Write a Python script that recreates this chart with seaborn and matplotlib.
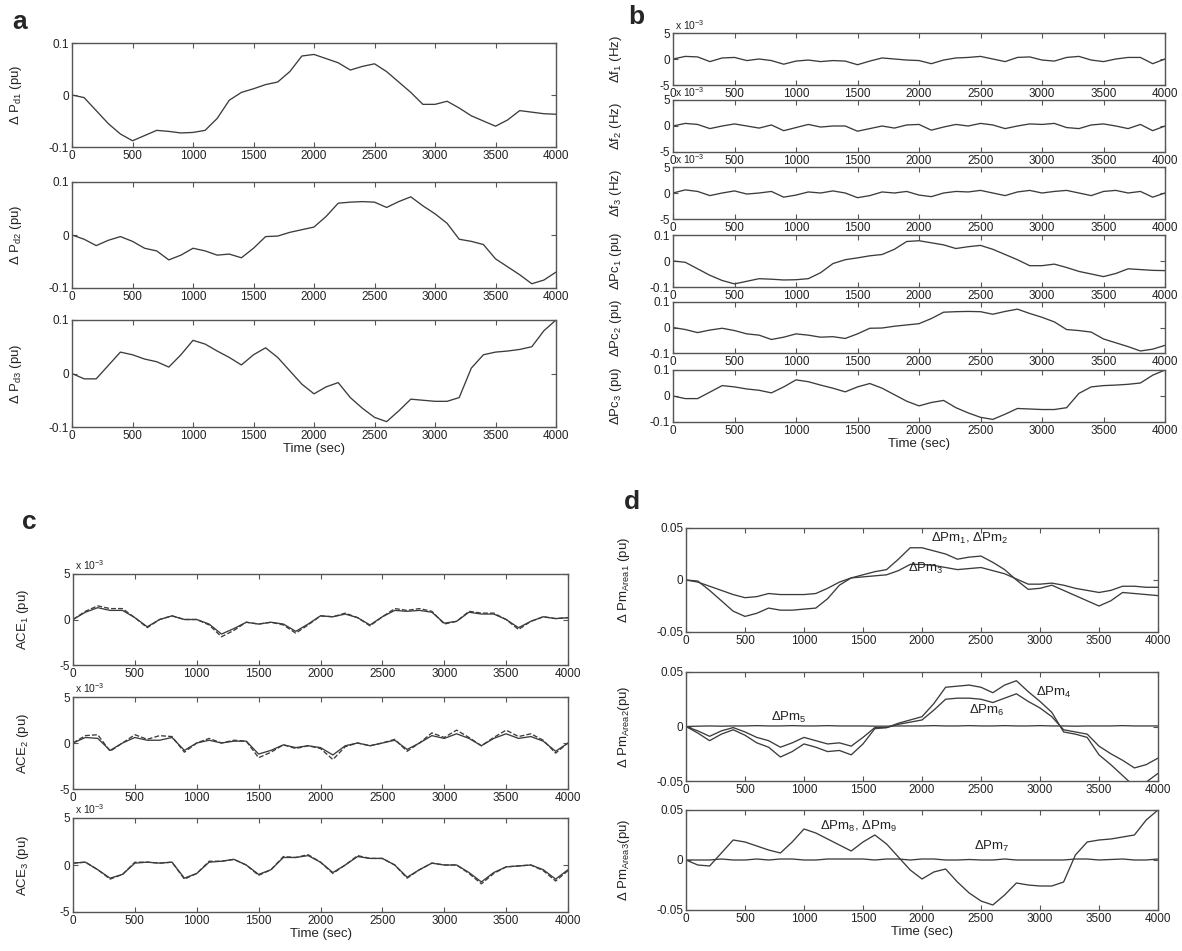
import numpy as np
import pandas as pd
import matplotlib
matplotlib.use("Agg")
import matplotlib.pyplot as plt
import seaborn as sns

#%% Data (100 s steps, 0 ... 4000 s)
time = list(range(0, 4001, 100))

# panel a: load disturbances (pu)
dPd1 = [0, -0.005, -0.03, -0.055, -0.075, -0.088, -0.078, -0.068, -0.07, -0.073,
        -0.072, -0.068, -0.045, -0.01, 0.005, 0.012, 0.02, 0.025, 0.045, 0.075,
        0.078, 0.07, 0.062, 0.048, 0.055, 0.06, 0.045, 0.025, 0.005, -0.018,
        -0.018, -0.012, -0.025, -0.04, -0.05, -0.06, -0.048, -0.03, -0.033, -0.036,
        -0.037]
dPd2 = [0, -0.008, -0.02, -0.01, -0.003, -0.012, -0.025, -0.03, -0.047, -0.038,
        -0.025, -0.03, -0.038, -0.036, -0.043, -0.025, -0.003, -0.002, 0.005, 0.01,
        0.015, 0.035, 0.06, 0.062, 0.063, 0.062, 0.052, 0.063, 0.072, 0.055,
        0.04, 0.022, -0.008, -0.012, -0.018, -0.045, -0.06, -0.075, -0.092, -0.085,
        -0.07]
dPd3 = [0, -0.01, -0.01, 0.015, 0.04, 0.035, 0.027, 0.022, 0.012, 0.035,
        0.062, 0.055, 0.042, 0.03, 0.016, 0.035, 0.048, 0.03, 0.005, -0.02,
        -0.038, -0.025, -0.017, -0.045, -0.065, -0.082, -0.09, -0.07, -0.048, -0.05,
        -0.052, -0.052, -0.045, 0.01, 0.035, 0.04, 0.042, 0.045, 0.05, 0.08,
        0.1]

# panel b: frequency deviations (x 10^-3 Hz) and controller outputs (pu)
df1 = [0, 0.5, 0.4, -0.5, 0.2, 0.3, -0.3, 0.0, -0.3, -1.0,
       -0.4, -0.2, -0.5, -0.3, -0.4, -1.1, -0.4, 0.2, 0.0, -0.2,
       -0.3, -0.9, -0.2, 0.2, 0.3, 0.5, 0.0, -0.5, 0.3, 0.4,
       -0.2, -0.4, 0.3, 0.5, -0.2, -0.5, 0.0, 0.3, 0.3, -0.9,
       0.0]
df2 = [0, 0.5, 0.3, -0.5, 0.0, 0.4, 0.0, -0.4, 0.2, -0.9,
       -0.3, 0.3, -0.2, 0.0, 0.0, -1.0, -0.5, 0.0, -0.4, 0.2,
       0.3, -0.8, -0.2, 0.3, 0.0, 0.5, 0.2, -0.5, 0.0, 0.4,
       0.3, 0.5, -0.3, -0.5, 0.2, 0.4, 0.0, -0.5, 0.3, -0.9,
       0.0]
df3 = [0, 0.6, 0.3, -0.5, 0.0, 0.4, -0.2, 0.0, 0.3, -0.8,
       -0.4, 0.2, 0.0, 0.4, 0.0, -0.9, -0.5, 0.2, 0.0, 0.3,
       -0.4, -0.7, 0.0, 0.3, 0.2, 0.5, 0.0, -0.5, 0.2, 0.5,
       0.0, 0.3, 0.5, 0.0, -0.5, 0.3, 0.5, 0.0, 0.3, -0.8,
       0.0]
dPc1 = dPd1
dPc2 = dPd2
dPc3 = dPd3

# panel c: area control errors (x 10^-3 pu), solid and dashed runs
ace1 = [0, 0.8, 1.3, 1.0, 1.0, 0.2, -0.8, 0.0, 0.4, 0.0,
        0.0, -0.5, -1.6, -1.0, -0.3, -0.5, -0.3, -0.5, -1.3, -0.5,
        0.4, 0.3, 0.6, 0.2, -0.6, 0.3, 1.0, 0.9, 1.0, 0.8,
        -0.4, -0.2, 0.8, 0.6, 0.6, 0.0, -0.9, -0.2, 0.3, 0.1,
        0.2]
ace1_b = [0, 0.9, 1.5, 1.2, 1.2, 0.2, -0.9, 0.0, 0.4, 0.0,
          0.0, -0.6, -1.9, -1.2, -0.3, -0.5, -0.3, -0.6, -1.5, -0.6,
          0.4, 0.3, 0.7, 0.2, -0.7, 0.3, 1.2, 1.0, 1.2, 0.9,
          -0.5, -0.2, 0.9, 0.7, 0.7, 0.0, -1.1, -0.2, 0.3, 0.1,
          0.2]
ace2 = [0, 0.6, 0.5, -0.8, 0.0, 0.6, 0.3, 0.3, 0.6, -0.8,
        0.0, 0.3, 0.0, 0.2, 0.2, -1.2, -0.8, -0.2, -0.5, -0.3,
        -0.5, -1.3, -0.3, 0.0, -0.3, 0.0, 0.3, -0.7, 0.0, 0.8,
        0.5, 1.0, 0.5, -0.3, 0.5, 1.0, 0.5, 0.7, 0.2, -0.9,
        0.0]
ace2_b = [0, 0.8, 0.9, -0.9, 0.0, 0.9, 0.4, 0.8, 0.7, -1.0,
          0.0, 0.5, 0.0, 0.3, 0.2, -1.6, -1.0, -0.2, -0.6, -0.3,
          -0.6, -1.8, -0.4, 0.0, -0.3, 0.0, 0.4, -0.9, 0.0, 1.1,
          0.6, 1.4, 0.6, -0.3, 0.6, 1.4, 0.7, 1.0, 0.3, -1.1,
          0.0]
ace3 = [0.2, 0.3, -0.5, -1.4, -1.0, 0.2, 0.3, 0.2, 0.3, -1.4,
        -0.9, 0.3, 0.4, 0.6, 0.0, -1.0, -0.5, 0.8, 0.8, 1.0,
        0.3, -0.8, 0.0, 0.9, 0.7, 0.7, 0.0, -1.3, -0.5, 0.2,
        0.0, 0.0, -0.8, -1.8, -0.8, -0.2, -0.1, 0.0, -0.5, -1.5,
        -0.5]
ace3_b = [0.2, 0.3, -0.5, -1.5, -1.0, 0.3, 0.3, 0.2, 0.3, -1.5,
          -0.9, 0.4, 0.4, 0.6, 0.0, -1.1, -0.5, 0.9, 0.8, 1.1,
          0.3, -0.9, 0.0, 1.0, 0.7, 0.7, 0.0, -1.4, -0.5, 0.2,
          0.0, 0.0, -0.9, -2.0, -0.9, -0.2, -0.1, 0.0, -0.6, -1.7,
          -0.6]

# panel d: mechanical power changes (pu)
dPm12 = [0, -0.001, -0.01, -0.02, -0.03, -0.035, -0.032, -0.027, -0.029, -0.029,
         -0.028, -0.027, -0.018, -0.005, 0.002, 0.005, 0.008, 0.01, 0.02, 0.031,
         0.031, 0.028, 0.025, 0.02, 0.022, 0.023, 0.017, 0.01, 0.0, -0.009,
         -0.008, -0.005, -0.01, -0.015, -0.02, -0.025, -0.02, -0.012, -0.013, -0.014,
         -0.015]
dPm3 = [0, -0.002, -0.006, -0.01, -0.014, -0.017, -0.016, -0.013, -0.014, -0.014,
        -0.014, -0.013, -0.008, -0.002, 0.002, 0.003, 0.004, 0.005, 0.009, 0.015,
        0.015, 0.014, 0.012, 0.01, 0.011, 0.012, 0.009, 0.006, 0.001, -0.004,
        -0.004, -0.003, -0.005, -0.008, -0.01, -0.012, -0.01, -0.006, -0.006, -0.007,
        -0.007]
dPm4 = [0, -0.006, -0.013, -0.007, -0.003, -0.008, -0.015, -0.019, -0.028, -0.023,
        -0.016, -0.019, -0.023, -0.022, -0.026, -0.016, -0.002, -0.001, 0.003, 0.006,
        0.009, 0.021, 0.036, 0.037, 0.038, 0.036, 0.031, 0.038, 0.042, 0.032,
        0.023, 0.013, -0.005, -0.007, -0.01, -0.026, -0.035, -0.045, -0.055, -0.051,
        -0.043]
dPm5 = [0, 0.0003, 0.0005, 0.0003, 0.0005, 0.0005, 0.0008, 0.0005, 0.0005, 0.0008,
        0.0005, 0.0005, 0.0008, 0.0005, 0.0005, 0.0005, 0.0003, 0.0003, 0.0005, 0.0005,
        0.0005, 0.0008, 0.0005, 0.0005, 0.0008, 0.0005, 0.0005, 0.0008, 0.0005, 0.0005,
        0.0008, 0.0005, 0.0005, 0.0003, 0.0005, 0.0005, 0.0005, 0.0008, 0.0005, 0.0005,
        0.0005]
dPm6 = [0, -0.004, -0.009, -0.004, -0.001, -0.005, -0.01, -0.013, -0.019, -0.015,
        -0.01, -0.013, -0.016, -0.015, -0.018, -0.01, -0.001, -0.001, 0.002, 0.004,
        0.006, 0.015, 0.025, 0.026, 0.026, 0.025, 0.022, 0.026, 0.03, 0.023,
        0.017, 0.009, -0.003, -0.005, -0.007, -0.018, -0.025, -0.031, -0.038, -0.035,
        -0.029]
dPm7 = [0, 0.0, 0.0, 0.001, 0.0, 0.0, 0.001, 0.0, 0.001, 0.001,
        0.0, 0.0, 0.001, 0.001, 0.001, 0.001, 0.0, 0.001, 0.001, 0.0,
        0.001, 0.001, 0.0, 0.0, 0.0005, 0.0, 0.0, 0.001, 0.0, 0.0,
        0.0, 0.0, 0.0, 0.001, 0.001, 0.0, 0.0005, 0.001, 0.0, 0.0,
        0.001]
dPm89 = [0, -0.005, -0.006, 0.007, 0.02, 0.018, 0.014, 0.01, 0.007, 0.018,
         0.031, 0.027, 0.021, 0.015, 0.009, 0.018, 0.025, 0.016, 0.003, -0.01,
         -0.019, -0.012, -0.009, -0.022, -0.033, -0.041, -0.045, -0.035, -0.023, -0.025,
         -0.026, -0.026, -0.022, 0.005, 0.018, 0.02, 0.021, 0.023, 0.025, 0.04,
         0.05]

#%% Style
sns.set_style("ticks")
plt.rcParams["font.family"] = ["Liberation Sans", "DejaVu Sans"]
plt.rcParams["mathtext.fontset"] = "custom"
plt.rcParams["mathtext.rm"] = "Liberation Sans"
plt.rcParams["mathtext.it"] = "Liberation Sans"
plt.rcParams["axes.unicode_minus"] = False

LINE = "#3c3c3c"
FRAME = "#555555"
TXT = "#222222"
W, H = 1182, 951
fig = plt.figure(figsize=(W / 100, H / 100), dpi=100)


def box(l, t, r, b):
    return [l / W, 1 - b / H, (r - l) / W, (b - t) / H]


def dress(ax, ylim, yticks, ylabels, ylabel, labx):
    ax.set_xlim(0, 4000)
    ax.set_ylim(*ylim)
    ax.set_xticks(range(0, 4001, 500))
    ax.set_yticks(yticks)
    ax.set_yticklabels(ylabels)
    ax.tick_params(direction="in", top=True, right=True, length=3.5,
                   labelsize=8.5, pad=2, color=FRAME, labelcolor=TXT)
    for s in ax.spines.values():
        s.set_color(FRAME)
        s.set_linewidth(1)
    ax.set_xlabel("")
    ax.set_ylabel(ylabel, fontsize=9.5, color=TXT)
    ax.yaxis.set_label_coords(labx, 0.5)
    ax.patch.set_alpha(0)


def trace(ax, y, ls="-"):
    sns.lineplot(x=time, y=y, ax=ax, color=LINE, lw=0.95, linestyle=ls)


def letter(x, y, s):
    fig.text(x / W, 1 - y / H, s, fontsize=19, fontweight="bold", va="center", ha="left")


def sci(ax):
    ax.text(0.005, 1.02, "x 10$^{-3}$", transform=ax.transAxes, fontsize=7.5,
            ha="left", va="bottom", color=TXT)


#%% Panel a
a_rows = [(43, 147), (182, 288), (320, 427)]
a_data = [dPd1, dPd2, dPd3]
a_lab = ["Δ P$_{d1}$ (pu)", "Δ P$_{d2}$ (pu)", "Δ P$_{d3}$ (pu)"]
for (t, b), y, lab in zip(a_rows, a_data, a_lab):
    ax = fig.add_axes(box(72, t, 556, b))
    trace(ax, y)
    dress(ax, (-0.1, 0.1), [-0.1, 0, 0.1], ["-0.1", "0", "0.1"], lab, -0.1)
ax.set_xlabel("Time (sec)", fontsize=9.5, labelpad=1, color=TXT)
letter(12, 22, "a")

#%% Panel b
b_rows = [(33, 85), (100, 152), (167, 219), (235, 287), (302, 353), (370, 422)]
b_data = [df1, df2, df3, dPc1, dPc2, dPc3]
b_lab = ["Δf$_1$ (Hz)", "Δf$_2$ (Hz)", "Δf$_3$ (Hz)",
         "ΔPc$_1$ (pu)", "ΔPc$_2$ (pu)", "ΔPc$_3$ (pu)"]
for i, ((t, b), y, lab) in enumerate(zip(b_rows, b_data, b_lab)):
    ax = fig.add_axes(box(673, t, 1165, b))
    trace(ax, y)
    if i < 3:
        dress(ax, (-5, 5), [-5, 0, 5], ["-5", "0", "5"], lab, -0.1)
        sci(ax)
    else:
        dress(ax, (-0.1, 0.1), [-0.1, 0, 0.1], ["-0.1", "0", "0.1"], lab, -0.1)
ax.set_xlabel("Time (sec)", fontsize=9.5, labelpad=1, color=TXT)
letter(628, 17, "b")

#%% Panel c
c_rows = [(574, 665), (697, 789), (818, 912)]
c_data = [(ace1, ace1_b), (ace2, ace2_b), (ace3, ace3_b)]
c_lab = ["ACE$_1$ (pu)", "ACE$_2$ (pu)", "ACE$_3$ (pu)"]
for (t, b), (y, yb), lab in zip(c_rows, c_data, c_lab):
    ax = fig.add_axes(box(73, t, 568, b))
    trace(ax, yb, "--")
    trace(ax, y)
    dress(ax, (-5, 5), [-5, 0, 5], ["-5", "0", "5"], lab, -0.085)
    sci(ax)
ax.set_xlabel("Time (sec)", fontsize=9.5, labelpad=1, color=TXT)
letter(22, 522, "c")

#%% Panel d
d_rows = [(528, 632), (672, 781), (810, 910)]
d_lab = ["Δ Pm$_{Area1}$ (pu)", "Δ Pm$_{Area2}$(pu)", "Δ Pm$_{Area3}$(pu)"]
d_data = [[dPm12, dPm3], [dPm4, dPm5, dPm6], [dPm7, dPm89]]
d_notes = [[(2075, 0.040, "ΔPm$_1$, ΔPm$_2$"), (1880, 0.011, "ΔPm$_3$")],
           [(2970, 0.031, "ΔPm$_4$"), (720, 0.008, "ΔPm$_5$"), (2395, 0.015, "ΔPm$_6$")],
           [(1135, 0.034, "ΔPm$_8$, ΔPm$_9$"), (2440, 0.014, "ΔPm$_7$")]]
for (t, b), ys, lab, notes in zip(d_rows, d_data, d_lab, d_notes):
    ax = fig.add_axes(box(686, t, 1158, b))
    for y in ys:
        trace(ax, y)
    dress(ax, (-0.05, 0.05), [-0.05, 0, 0.05], ["-0.05", "0", "0.05"], lab, -0.115)
    for x, yv, s in notes:
        ax.text(x, yv, s, fontsize=9.5, color=TXT, ha="left", va="center")
ax.set_xlabel("Time (sec)", fontsize=9.5, labelpad=1, color=TXT)
letter(624, 502, "d")

fig.savefig("out.png", dpi=100)
